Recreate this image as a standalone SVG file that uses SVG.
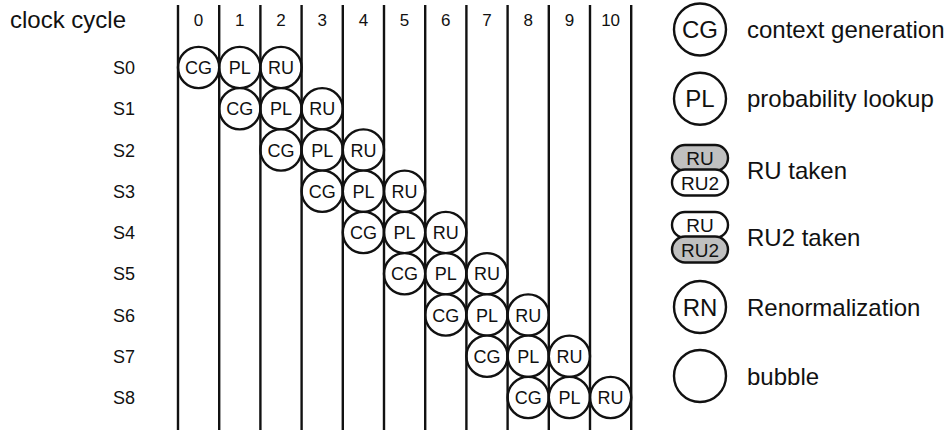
<svg xmlns="http://www.w3.org/2000/svg" width="950" height="435" viewBox="0 0 950 435">
<style>
text{font-family:"Liberation Sans",Arial,sans-serif;fill:#111}
.hdr{font-size:24px}
.num{font-size:17px;text-anchor:middle}
.row{font-size:18px;text-anchor:end}
.lbl{font-size:18px;text-anchor:middle}
.grid{stroke:#111;stroke-width:2.4}
.c{fill:#fff;stroke:#111;stroke-width:2.4}
.lc{fill:#fff;stroke:#111;stroke-width:2.4}
.pw{fill:#fff;stroke:#111;stroke-width:2.4}
.pg{fill:#c0c0c0;stroke:#111;stroke-width:2.4}
.ll{font-size:24px;text-anchor:middle}
.pl{font-size:19px;text-anchor:middle}
.lt{font-size:24px}
</style>
<rect width="950" height="435" fill="#fff"/>
<text class="hdr" x="10" y="28">clock cycle</text>
<g id="columns">
<text class="num" x="198.6" y="26">0</text>
<text class="num" x="239.8" y="26">1</text>
<text class="num" x="281" y="26">2</text>
<text class="num" x="322.2" y="26">3</text>
<text class="num" x="363.4" y="26">4</text>
<text class="num" x="404.6" y="26">5</text>
<text class="num" x="445.8" y="26">6</text>
<text class="num" x="487" y="26">7</text>
<text class="num" x="528.2" y="26">8</text>
<text class="num" x="569.4" y="26">9</text>
<text class="num" x="610.6" y="26">10</text>
</g>
<g id="rows">
<text class="row" x="135" y="74">S0</text>
<text class="row" x="135" y="115.25">S1</text>
<text class="row" x="135" y="156.5">S2</text>
<text class="row" x="135" y="197.75">S3</text>
<text class="row" x="135" y="239">S4</text>
<text class="row" x="135" y="280.25">S5</text>
<text class="row" x="135" y="321.5">S6</text>
<text class="row" x="135" y="362.75">S7</text>
<text class="row" x="135" y="404">S8</text>
</g>
<g id="stages">
<g id="s0"><circle class="c" cx="198.6" cy="67.5" r="20.6"/><text class="lbl" x="198.6" y="74">CG</text><circle class="c" cx="239.8" cy="67.5" r="20.6"/><text class="lbl" x="239.8" y="74">PL</text><circle class="c" cx="281" cy="67.5" r="20.6"/><text class="lbl" x="281" y="74">RU</text></g>
<g id="s1"><circle class="c" cx="239.8" cy="108.75" r="20.6"/><text class="lbl" x="239.8" y="115.25">CG</text><circle class="c" cx="281" cy="108.75" r="20.6"/><text class="lbl" x="281" y="115.25">PL</text><circle class="c" cx="322.2" cy="108.75" r="20.6"/><text class="lbl" x="322.2" y="115.25">RU</text></g>
<g id="s2"><circle class="c" cx="281" cy="150" r="20.6"/><text class="lbl" x="281" y="156.5">CG</text><circle class="c" cx="322.2" cy="150" r="20.6"/><text class="lbl" x="322.2" y="156.5">PL</text><circle class="c" cx="363.4" cy="150" r="20.6"/><text class="lbl" x="363.4" y="156.5">RU</text></g>
<g id="s3"><circle class="c" cx="322.2" cy="191.25" r="20.6"/><text class="lbl" x="322.2" y="197.75">CG</text><circle class="c" cx="363.4" cy="191.25" r="20.6"/><text class="lbl" x="363.4" y="197.75">PL</text><circle class="c" cx="404.6" cy="191.25" r="20.6"/><text class="lbl" x="404.6" y="197.75">RU</text></g>
<g id="s4"><circle class="c" cx="363.4" cy="232.5" r="20.6"/><text class="lbl" x="363.4" y="239">CG</text><circle class="c" cx="404.6" cy="232.5" r="20.6"/><text class="lbl" x="404.6" y="239">PL</text><circle class="c" cx="445.8" cy="232.5" r="20.6"/><text class="lbl" x="445.8" y="239">RU</text></g>
<g id="s5"><circle class="c" cx="404.6" cy="273.75" r="20.6"/><text class="lbl" x="404.6" y="280.25">CG</text><circle class="c" cx="445.8" cy="273.75" r="20.6"/><text class="lbl" x="445.8" y="280.25">PL</text><circle class="c" cx="487" cy="273.75" r="20.6"/><text class="lbl" x="487" y="280.25">RU</text></g>
<g id="s6"><circle class="c" cx="445.8" cy="315" r="20.6"/><text class="lbl" x="445.8" y="321.5">CG</text><circle class="c" cx="487" cy="315" r="20.6"/><text class="lbl" x="487" y="321.5">PL</text><circle class="c" cx="528.2" cy="315" r="20.6"/><text class="lbl" x="528.2" y="321.5">RU</text></g>
<g id="s7"><circle class="c" cx="487" cy="356.25" r="20.6"/><text class="lbl" x="487" y="362.75">CG</text><circle class="c" cx="528.2" cy="356.25" r="20.6"/><text class="lbl" x="528.2" y="362.75">PL</text><circle class="c" cx="569.4" cy="356.25" r="20.6"/><text class="lbl" x="569.4" y="362.75">RU</text></g>
<g id="s8"><circle class="c" cx="528.2" cy="397.5" r="20.6"/><text class="lbl" x="528.2" y="404">CG</text><circle class="c" cx="569.4" cy="397.5" r="20.6"/><text class="lbl" x="569.4" y="404">PL</text><circle class="c" cx="610.6" cy="397.5" r="20.6"/><text class="lbl" x="610.6" y="404">RU</text></g>
</g>
<g id="gridlines">
<line class="grid" x1="178" y1="5" x2="178" y2="430"/>
<line class="grid" x1="219.2" y1="5" x2="219.2" y2="430"/>
<line class="grid" x1="260.4" y1="5" x2="260.4" y2="430"/>
<line class="grid" x1="301.6" y1="5" x2="301.6" y2="430"/>
<line class="grid" x1="342.8" y1="5" x2="342.8" y2="430"/>
<line class="grid" x1="384" y1="5" x2="384" y2="430"/>
<line class="grid" x1="425.2" y1="5" x2="425.2" y2="430"/>
<line class="grid" x1="466.4" y1="5" x2="466.4" y2="430"/>
<line class="grid" x1="507.6" y1="5" x2="507.6" y2="430"/>
<line class="grid" x1="548.8" y1="5" x2="548.8" y2="430"/>
<line class="grid" x1="590" y1="5" x2="590" y2="430"/>
<line class="grid" x1="631.2" y1="5" x2="631.2" y2="430"/>
</g>
<g id="legend">
<g id="leg-cg"><circle class="lc" cx="700" cy="29.5" r="26"/><text class="ll" x="700" y="38">CG</text><text class="lt" x="747" y="38">context generation</text></g>
<g id="leg-pl"><circle class="lc" cx="700" cy="98.8" r="26"/><text class="ll" x="700" y="107.3">PL</text><text class="lt" x="747" y="107.3">probability lookup</text></g>
<g id="leg-ru"><rect class="pg" x="672" y="145" width="56" height="26" rx="13"/><text class="pl" x="700" y="164.5">RU</text><rect class="pw" x="672" y="169.5" width="56" height="26" rx="13"/><text class="pl" x="700" y="189.5">RU2</text><text class="lt" x="747" y="179">RU taken</text></g>
<g id="leg-ru2"><rect class="pw" x="672" y="212" width="56" height="26" rx="13"/><text class="pl" x="700" y="231.5">RU</text><rect class="pg" x="672" y="236.5" width="56" height="26" rx="13"/><text class="pl" x="700" y="256.5">RU2</text><text class="lt" x="747" y="246">RU2 taken</text></g>
<g id="leg-rn"><circle class="lc" cx="700" cy="307" r="26"/><text class="ll" x="700" y="315.5">RN</text><text class="lt" x="747" y="315.5">Renormalization</text></g>
<g id="leg-bubble"><circle class="lc" cx="700" cy="376" r="26"/><text class="lt" x="747" y="384.5">bubble</text></g>
</g>
</svg>
